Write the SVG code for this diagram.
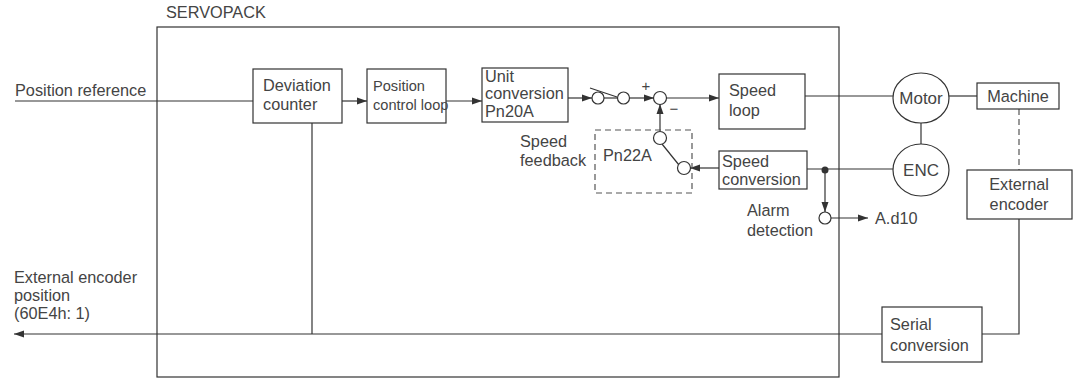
<svg xmlns="http://www.w3.org/2000/svg" width="1080" height="378" viewBox="0 0 1080 378">
<defs>
<marker id="ah" viewBox="0 0 10 10" refX="10" refY="5" markerWidth="10" markerHeight="10" markerUnits="userSpaceOnUse" orient="auto">
<path d="M0,1.5 L10,5 L0,8.5 Z" fill="#333"/>
</marker>
<style>
text{font-family:"Liberation Sans",Arial,sans-serif;font-size:16.3px;fill:#444}
.b{fill:#fff;stroke:#333;stroke-width:1.2}
.l{fill:none;stroke:#333;stroke-width:1.2}
.d{fill:none;stroke:#555;stroke-width:1.2;stroke-dasharray:6 4}
.a{marker-end:url(#ah)}
.c{text-anchor:middle}
</style>
</defs>
<rect width="1080" height="378" fill="#fff"/>
<g id="servopack">
<rect x="157" y="27" width="682" height="350" class="l"/>
<text x="166" y="18">SERVOPACK</text>
</g>
<g id="connectors">
<line x1="15" y1="101" x2="253" y2="101" class="l"/>
<line x1="342" y1="101" x2="367" y2="101" class="l a"/>
<line x1="446" y1="101" x2="482" y2="101" class="l a"/>
<line x1="568" y1="98" x2="592" y2="98" class="l a"/>
<line x1="604" y1="98" x2="617" y2="98" class="l"/>
<line x1="590" y1="88" x2="617" y2="97" class="l"/>
<line x1="630" y1="98" x2="654" y2="98" class="l a"/>
<line x1="666" y1="98" x2="719" y2="98" class="l a"/>
<line x1="660" y1="131" x2="660" y2="104" class="l a"/>
<line x1="805" y1="96" x2="893" y2="96" class="l"/>
<line x1="949" y1="96" x2="977" y2="96" class="l"/>
<line x1="921" y1="122" x2="921" y2="144" class="l"/>
<line x1="807" y1="169" x2="893" y2="169" class="l"/>
<line x1="719" y1="168" x2="690" y2="168" class="l a"/>
<line x1="662" y1="144" x2="679" y2="165" class="l"/>
<line x1="825" y1="170" x2="825" y2="212" class="l a"/>
<line x1="831" y1="218" x2="868" y2="218" class="l a"/>
<line x1="1019" y1="109" x2="1019" y2="170" class="d"/>
<polyline points="1019,219 1019,334 982,334" class="l"/>
<line x1="882" y1="334" x2="14" y2="334" class="l a"/>
<line x1="312" y1="123" x2="312" y2="334" class="l"/>
<circle cx="825" cy="170" r="3.5" fill="#333"/>
</g>
<g id="deviation-counter">
<rect x="253" y="69" width="89" height="54" class="b"/>
<text x="263" y="91">Deviation</text>
<text x="263" y="110">counter</text>
</g>
<g id="position-control-loop">
<rect x="367" y="69" width="79" height="54" class="b"/>
<text x="373" y="91" style="font-size:14.6px">Position</text>
<text x="373" y="110" style="font-size:14.6px">control loop</text>
</g>
<g id="unit-conversion">
<rect x="482" y="68" width="86" height="54" class="b"/>
<text x="485" y="82">Unit</text>
<text x="485" y="99">conversion</text>
<text x="485" y="117">Pn20A</text>
</g>
<g id="switch1">
<circle cx="598" cy="98" r="6" class="b"/>
<circle cx="623.5" cy="98" r="6" class="b"/>
</g>
<g id="sum">
<circle cx="660" cy="98" r="6.5" class="b"/>
<text x="646" y="91" class="c" style="font-size:15px">+</text>
<text x="674" y="114" class="c" style="font-size:15px">−</text>
</g>
<g id="pn22a">
<rect x="595" y="130" width="97" height="63" class="d"/>
<text x="603" y="161">Pn22A</text>
<circle cx="660" cy="138" r="6.5" class="b"/>
<circle cx="684" cy="168" r="6.5" class="b"/>
</g>
<g id="speed-feedback-label">
<text x="520" y="147">Speed</text>
<text x="520" y="166">feedback</text>
</g>
<g id="speed-loop">
<rect x="719" y="74" width="86" height="55" class="b"/>
<text x="729" y="96">Speed</text>
<text x="729" y="116">loop</text>
</g>
<g id="speed-conversion">
<rect x="719" y="151" width="88" height="38" class="b"/>
<text x="722" y="167">Speed</text>
<text x="722" y="185">conversion</text>
</g>
<g id="alarm-detection">
<circle cx="825" cy="218" r="6" class="b"/>
<text x="747" y="216">Alarm</text>
<text x="747" y="236">detection</text>
<text x="875" y="224">A.d10</text>
</g>
<g id="motor">
<ellipse cx="921" cy="98" rx="28" ry="25" class="b"/>
<text x="921" y="104" class="c" style="font-size:17px">Motor</text>
</g>
<g id="enc">
<ellipse cx="921" cy="170" rx="28" ry="26" class="b"/>
<text x="921" y="176" class="c" style="font-size:17px">ENC</text>
</g>
<g id="machine">
<rect x="977" y="83" width="82" height="26" class="b"/>
<text x="1018" y="102" class="c">Machine</text>
</g>
<g id="external-encoder">
<rect x="967" y="170" width="105" height="49" class="b"/>
<text x="1019" y="190" class="c">External</text>
<text x="1019" y="210" class="c">encoder</text>
</g>
<g id="serial-conversion">
<rect x="882" y="307" width="100" height="55" class="b"/>
<text x="890" y="330">Serial</text>
<text x="890" y="351">conversion</text>
</g>
<g id="labels">
<text x="15" y="96">Position reference</text>
<text x="14" y="283">External encoder</text>
<text x="14" y="301">position</text>
<text x="14" y="319">(60E4h: 1)</text>
</g>
</svg>
